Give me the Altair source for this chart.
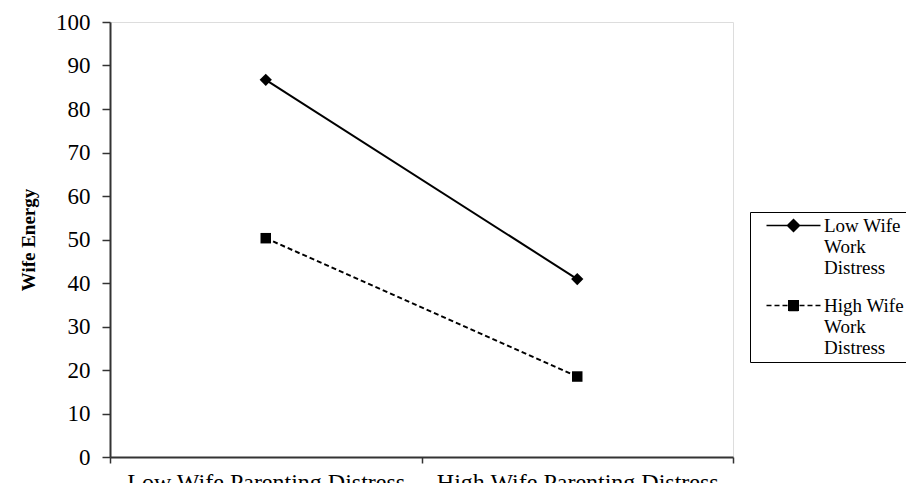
import altair as alt
import pandas as pd

# ---- data ----
categories = ["Low Wife Parenting Distress", "High Wife Parenting Distress"]
series_names = ["Low Wife Work Distress", "High Wife Work Distress"]
low_work_values = [86.7, 40.9]
high_work_values = [50.3, 18.5]
y_ticks = list(range(0, 101, 10))
legend_label_lines = {
    "Low Wife Work Distress": ["Low Wife", "Work", "Distress"],
    "High Wife Work Distress": ["High Wife", "Work", "Distress"],
}

rows = []
for s, vals in zip(series_names, [low_work_values, high_work_values]):
    for c, v in zip(categories, vals):
        rows.append({"cond": c, "series": s, "energy": v})
df = pd.DataFrame(rows)

FONT = "Liberation Serif"

x_enc = alt.X(
    "cond:N",
    sort=categories,
    scale=alt.Scale(type="band", paddingInner=0, paddingOuter=0),
    axis=alt.Axis(
        title=None, labelAngle=0, tickBand="extent", tickSize=6,
        labelFont=FONT, labelFontSize=24, labelColor="black", labelPadding=7,
        labelLimit=0,
        domainColor="#333333", domainWidth=2, tickColor="#333333", tickWidth=1.5,
        grid=False,
    ),
)
y_enc = alt.Y(
    "energy:Q",
    scale=alt.Scale(domain=[0, 100], nice=False, zero=True),
    axis=alt.Axis(
        values=y_ticks, title="Wife Energy", titleFont=FONT, titleFontSize=19,
        titleFontWeight="bold", titleColor="black", titlePadding=17,
        labelFont=FONT, labelFontSize=23, labelColor="black", labelPadding=12,
        tickSize=8, tickColor="#333333", tickWidth=1.5,
        domainColor="#333333", domainWidth=2, grid=False,
    ),
)

base_low = alt.Chart(df).transform_filter(alt.datum.series == series_names[0])
base_high = alt.Chart(df).transform_filter(alt.datum.series == series_names[1])

line_low = base_low.mark_line(color="black", strokeWidth=2).encode(x=x_enc, y=y_enc)
line_high = base_high.mark_line(color="black", strokeWidth=2, strokeDash=[5, 3]).encode(
    x=x_enc, y=y_enc
)
pts_low = base_low.mark_point(
    shape="diamond", filled=True, color="black", opacity=1, size=150
).encode(x=x_enc, y=y_enc)
pts_high = base_high.mark_point(
    shape="square", filled=True, color="black", opacity=1, size=110
).encode(x=x_enc, y=y_enc)


# legend symbols: line with marker (solid / dashed) as stroked custom paths
def hatch_diamond(r, step=0.15):
    parts = [f"M0,{-r}L{r},0L0,{r}L{-r},0Z"]
    n = int(round(2 * r / step))
    for i in range(n + 1):
        yy = -r + i * step
        w = r - abs(yy)
        parts.append(f"M{-w:.2f},{yy:.2f}H{w:.2f}")
    return "".join(parts)


def hatch_square(r, step=0.15):
    parts = [f"M{-r},{-r}H{r}V{r}H{-r}Z"]
    n = int(round(2 * r / step))
    for i in range(n + 1):
        yy = -r + i * step
        parts.append(f"M{-r},{yy:.2f}H{r}")
    return "".join(parts)


path_low = "M-5.4,0H5.4" + hatch_diamond(1.2)
path_high = ("M-5.4,0H-4.4M-3.8,0H-2.8M-2.2,0H-1.2"
             "M1.2,0H2.2M2.8,0H3.8M4.4,0H5.4" + hatch_square(0.95))

label_expr = " : ".join(
    [f"datum.label == '{k}' ? {v}" for k, v in legend_label_lines.items()]
) + " : datum.label"

legend_layer = alt.Chart(df).mark_point(
    filled=False, color="black", strokeWidth=1.5, opacity=1, size=0
).encode(
    x=x_enc, y=y_enc,
    shape=alt.Shape(
        "series:N",
        scale=alt.Scale(domain=series_names, range=[path_low, path_high]),
        legend=alt.Legend(
            title=None, orient="none", legendX=640, legendY=190,
            labelExpr=label_expr, labelFont=FONT, labelFontSize=19,
            labelColor="black", labelLimit=300, labelBaseline="middle",
            symbolSize=100, symbolOffset=30, labelOffset=21,
            symbolStrokeColor="black", symbolStrokeWidth=1.5,
            symbolFillColor="black",
            strokeColor="black", padding=4, rowPadding=18,
        ),
    )
)

chart = alt.layer(line_low, line_high, pts_low, pts_high, legend_layer).properties(
    width=623, height=435,
    autosize=alt.AutoSizeParams(type="none"),
    padding={"left": 102, "top": 14, "right": 173, "bottom": 26},
).configure_view(
    stroke="#888888", strokeWidth=1.5
).configure(background="white")

chart.save("out.html", embed_options={"renderer": "svg", "actions": False})
